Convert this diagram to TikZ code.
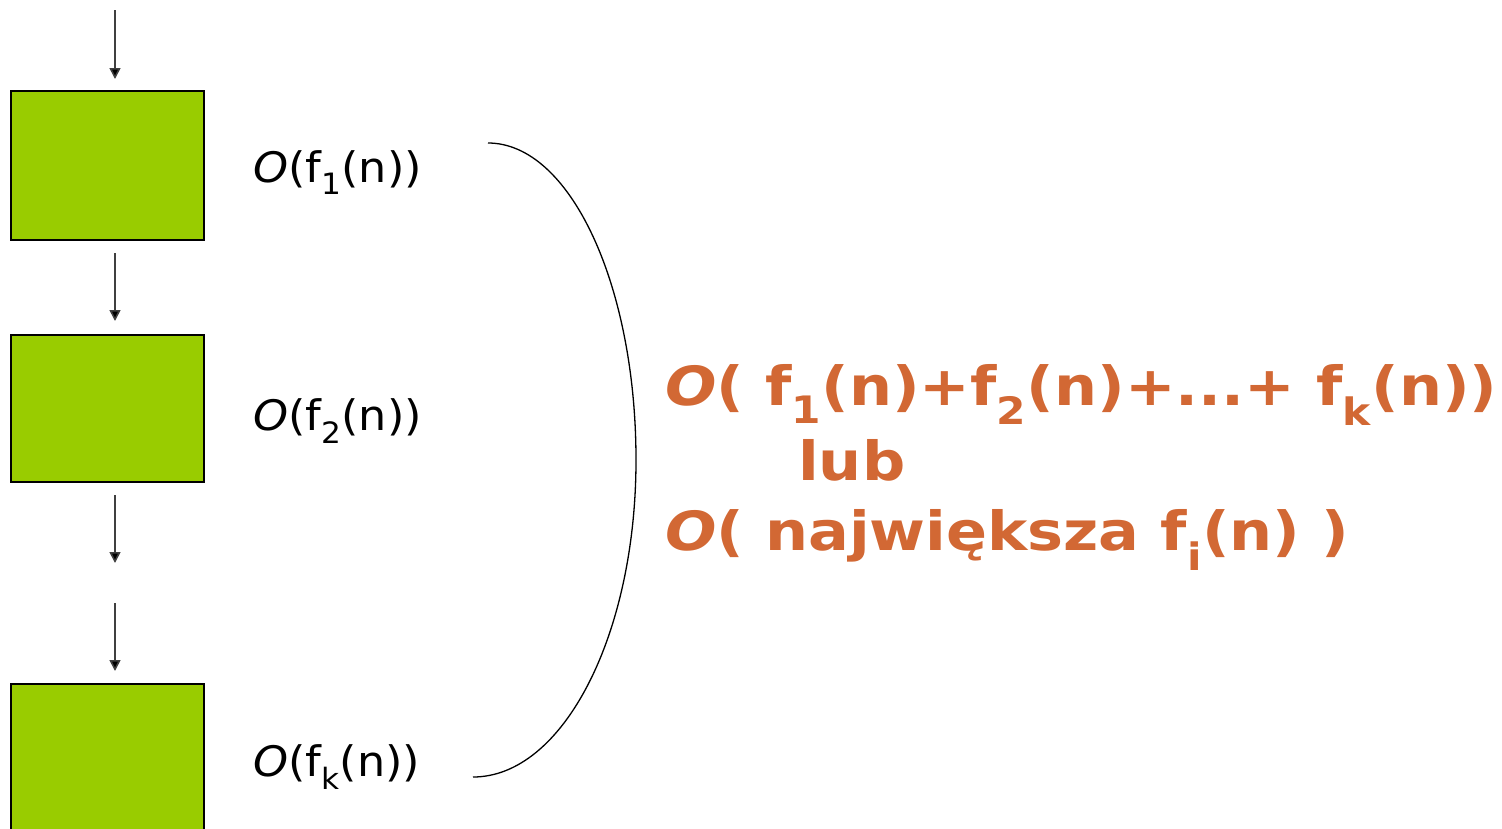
\documentclass[tikz,border=0pt]{standalone}
\usepackage{fontspec}
\setmainfont{DejaVu Sans}
\newfontfamily\labelfont[FakeStretch=1.06]{DejaVu Sans}
\newfontfamily\resfont[FakeStretch=1.12]{DejaVu Sans}
\usetikzlibrary{arrows.meta}
\definecolor{boxgreen}{RGB}{153,204,0}
\definecolor{txtorange}{RGB}{210,104,52}
\begin{document}
\begin{tikzpicture}[x=1pt,y=-1pt,
  block/.style={draw=black,line width=1.5pt,fill=boxgreen},
  flow/.style={draw=black!75,line width=1.6pt,-{Triangle[length=11pt,width=11pt,fill=black]}},
  cost/.style={anchor=base west,inner sep=0pt,font=\labelfont\fontsize{42}{50}\selectfont},
  result/.style={anchor=base west,inner sep=0pt,text=txtorange,font=\resfont\bfseries\fontsize{54}{64}\selectfont}]
\useasboundingbox (0,0) rectangle (1502,828);
\clip (0,0) rectangle (1502,828);
% boxes
\path[block] (11,91) rectangle (204,240);
\path[block] (11,335) rectangle (204,482);
\path[block] (11,684) rectangle (204,840);
\node[minimum width=193pt,minimum height=149pt,inner sep=0pt] (b1) at (107.5,165.5) {};
\node[minimum width=193pt,minimum height=147pt,inner sep=0pt] (b2) at (107.5,408.5) {};
\node[minimum width=193pt,minimum height=156pt,inner sep=0pt] (b3) at (107.5,762) {};
% arrow end points
\coordinate (a0s) at (115,10);
\coordinate (a0e) at (115,79);
\coordinate (a1s) at (115,253);
\coordinate (a1e) at (115,321);
\coordinate (a2s) at (115,495);
\coordinate (a2e) at (115,563);
\coordinate (a3s) at (115,603);
\coordinate (a3e) at (115,671);
\draw[flow] (a0s) -- (a0e);
\draw[flow] (a1s) -- (a1e);
\draw[flow] (a2s) -- (a2e);
\draw[flow] (a3s) -- (a3e);
% cost labels
\node[cost] (c1) at (253,182) {\textit{O}(f\textsubscript{1}(n))};
\node[cost] (c2) at (253,430) {\textit{O}(f\textsubscript{2}(n))};
\node[cost] (c3) at (253,776) {\textit{O}(f\textsubscript{k}(n))};
% brace curve
\coordinate (cs) at (488,143);
\coordinate (cm) at (636,460);
\coordinate (ce) at (473,777);
\draw[line width=1.3pt] (cs) .. controls (570,143) and (636,285) .. (cm)
  .. controls (636,635) and (563,777) .. (ce);
% result
\node[result] (r1) at (665,405) {\textit{O}( f\textsubscript{1}(n)+f\textsubscript{2}(n)+...+ f\textsubscript{k}(n))};
\node[result] (r2) at (798,480) {lub};
\node[result] (r3) at (665,550) {\textit{O}( największa f\textsubscript{i}(n) )};
\end{tikzpicture}
\end{document}
